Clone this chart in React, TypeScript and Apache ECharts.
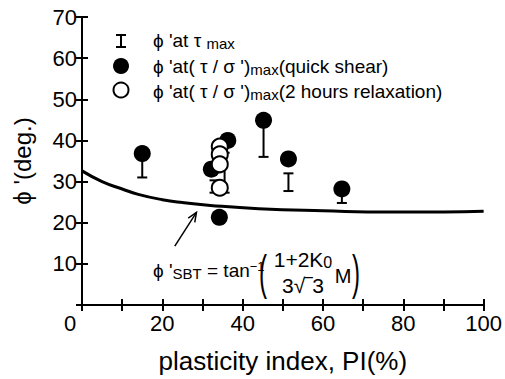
import React, { useEffect, useRef } from "react";
import * as echarts from "echarts";

// ---- data ----
const xTicks = [0, 10, 20, 30, 40, 50, 60, 70, 80, 90, 100];
const yTicks = [0, 10, 20, 30, 40, 50, 60, 70];
// phi' at (tau/sigma')max, quick shear (filled circles)
const quickShear: number[][] = [
  [15, 36.8],
  [32.2, 33.0],
  [36.3, 40.0],
  [34.2, 21.3],
  [45.2, 44.9],
  [51.4, 35.5],
  [64.7, 28.2],
];
// phi' at (tau/sigma')max, 2 hours relaxation (open circles)
const relaxation: number[][] = [
  [34.3, 38.5],
  [34.3, 36.6],
  [34.3, 34.2],
  [34.3, 28.5],
];
// phi' at tau max: [PI, low, high]
const tauMaxBars: number[][] = [
  [15, 31.0, 36.0],
  [33.0, 27.3, 30.3],
  [35.5, 27.3, 37.0],
  [45.2, 36.0, 44.0],
  [51.4, 27.7, 32.0],
  [64.7, 24.8, 27.0],
];
// phi'SBT curve
const sbtCurve: number[][] = [
  [0, 32.6],
  [5, 30.0],
  [10, 28.2],
  [14, 26.9],
  [20, 25.6],
  [25, 24.9],
  [32, 24.2],
  [44, 23.4],
  [60, 22.9],
  [77, 22.6],
  [90, 22.6],
  [100, 22.8],
];
// annotation arrow: [x0, y0, x1, y1]
const arrowData: number[][] = [[23.1, 14.3, 28.5, 22.5]];

const FONT = "'Liberation Sans', Arial, Helvetica, sans-serif";

export default function App() {
  const ref = useRef<HTMLDivElement>(null);
  useEffect(() => {
    if (!ref.current) return;
    const chart = echarts.init(ref.current, null, { renderer: "svg" });
    const axisLine = { show: true, lineStyle: { color: "#000", width: 2 } };
    const axisTick = { show: true, inside: true, length: 6, lineStyle: { color: "#000", width: 2 } };
    const xBase = {
      type: "value" as const,
      min: xTicks[0],
      max: xTicks[xTicks.length - 1],
      interval: 10,
      axisLine,
      axisTick,
      splitLine: { show: false },
    };
    const yBase = {
      type: "value" as const,
      min: yTicks[0],
      max: yTicks[yTicks.length - 1],
      interval: 10,
      axisLine,
      axisTick,
      splitLine: { show: false },
    };
    const legText = { fontFamily: FONT, fontSize: 19, lineHeight: 21, fill: "#000" };
    const fText = { fontFamily: FONT, fontSize: 19, lineHeight: 21, fill: "#000" };
    const rich = {
      s: { fontFamily: FONT, fontSize: 15, lineHeight: 13, verticalAlign: "bottom", fill: "#000" },
      p: { fontFamily: FONT, fontSize: 13, lineHeight: 11, verticalAlign: "top", fill: "#000" },
    };
    const option: any = {
      animation: false,
      backgroundColor: "#fff",
      grid: { left: 82, right: 20, top: 17, bottom: 63 },
      xAxis: [
        {
          ...xBase,
          position: "bottom",
          axisLabel: {
            show: true,
            color: "#000",
            fontFamily: FONT,
            fontSize: 22,
            margin: 7,
            formatter: (v: number) => (v === 0 ? "{z|0}" : v % 20 === 0 ? String(v) : ""),
            rich: { z: { fontFamily: FONT, fontSize: 22, color: "#000", padding: [0, 24, 0, 0] } },
          },
          name: "plasticity index, PI(%)",
          nameLocation: "middle",
          nameGap: 43,
          nameTextStyle: { color: "#000", fontFamily: FONT, fontSize: 26 },
        },
        { ...xBase, position: "top", axisLabel: { show: false } },
      ],
      yAxis: [
        {
          ...yBase,
          position: "left",
          axisLabel: {
            show: true,
            color: "#000",
            fontFamily: FONT,
            fontSize: 22,
            margin: 5,
            formatter: (v: number) => (v === 0 ? "" : String(v)),
          },
          name: "ϕ '(deg.)",
          nameLocation: "middle",
          nameGap: 48,
          nameRotate: 90,
          nameTextStyle: { color: "#000", fontFamily: FONT, fontSize: 24 },
        },
        { ...yBase, position: "right", axisLabel: { show: false } },
      ],
      series: [
        {
          type: "line",
          data: sbtCurve,
          smooth: true,
          showSymbol: false,
          lineStyle: { color: "#000", width: 3 },
          z: 2,
        },
        {
          type: "custom",
          data: tauMaxBars,
          encode: { x: 0, y: [1, 2] },
          z: 3,
          renderItem: (_p: any, api: any) => {
            const lo = api.coord([api.value(0), api.value(1)]);
            const hi = api.coord([api.value(0), api.value(2)]);
            const w = 5;
            const st = { stroke: "#000", lineWidth: 2 };
            return {
              type: "group",
              children: [
                { type: "line", shape: { x1: lo[0], y1: lo[1], x2: hi[0], y2: hi[1] }, style: st },
                { type: "line", shape: { x1: lo[0] - w, y1: lo[1], x2: lo[0] + w, y2: lo[1] }, style: st },
                { type: "line", shape: { x1: hi[0] - w, y1: hi[1], x2: hi[0] + w, y2: hi[1] }, style: st },
              ],
            };
          },
        },
        {
          type: "scatter",
          data: quickShear,
          symbol: "circle",
          symbolSize: 17,
          itemStyle: { color: "#000", opacity: 1 },
          z: 4,
        },
        {
          type: "scatter",
          data: relaxation,
          symbol: "circle",
          symbolSize: 16,
          itemStyle: { color: "#fff", borderColor: "#000", borderWidth: 2, opacity: 1 },
          z: 5,
        },
        {
          type: "custom",
          data: arrowData,
          encode: { x: [0, 2], y: [1, 3] },
          z: 6,
          renderItem: (_p: any, api: any) => {
            const p0 = api.coord([api.value(0), api.value(1)]);
            const p1 = api.coord([api.value(2), api.value(3)]);
            const ang = Math.atan2(p1[1] - p0[1], p1[0] - p0[0]);
            const L = 10;
            const a = 0.4;
            const h1 = [p1[0] - L * Math.cos(ang - a), p1[1] - L * Math.sin(ang - a)];
            const h2 = [p1[0] - L * Math.cos(ang + a), p1[1] - L * Math.sin(ang + a)];
            const st = { stroke: "#000", lineWidth: 1.5, fill: "none" };
            return {
              type: "group",
              children: [
                { type: "line", shape: { x1: p0[0], y1: p0[1], x2: p1[0], y2: p1[1] }, style: st },
                { type: "polyline", shape: { points: [h1, p1, h2] }, style: st },
              ],
            };
          },
        },
      ],
      graphic: [
        // legend symbols
        {
          type: "group",
          children: [
            { type: "line", shape: { x1: 121, y1: 35, x2: 121, y2: 47 }, style: { stroke: "#000", lineWidth: 2 } },
            { type: "line", shape: { x1: 116, y1: 35, x2: 126, y2: 35 }, style: { stroke: "#000", lineWidth: 2 } },
            { type: "line", shape: { x1: 116, y1: 47, x2: 126, y2: 47 }, style: { stroke: "#000", lineWidth: 2 } },
            { type: "circle", shape: { cx: 121, cy: 66, r: 8 }, style: { fill: "#000" } },
            { type: "circle", shape: { cx: 121, cy: 90, r: 7.5 }, style: { fill: "#fff", stroke: "#000", lineWidth: 2 } },
          ],
        },
        {
          type: "text",
          x: 153,
          y: 40,
          style: { ...legText, text: "ϕ 'at τ {s|max}", rich, align: "left", verticalAlign: "middle" },
        },
        {
          type: "text",
          x: 153,
          y: 66,
          style: { ...legText, text: "ϕ 'at( τ / σ '){s|max}(quick shear)", rich, align: "left", verticalAlign: "middle" },
        },
        {
          type: "text",
          x: 153,
          y: 91,
          style: { ...legText, text: "ϕ 'at( τ / σ '){s|max}(2 hours relaxation)", rich, align: "left", verticalAlign: "middle" },
        },
        // formula
        {
          type: "text",
          x: 153,
          y: 270,
          style: { ...fText, text: "ϕ '{s|SBT} = tan{p|−1}", rich, align: "left", verticalAlign: "middle" },
        },
        {
          type: "text",
          x: 263,
          y: 273,
          scaleX: 0.5,
          style: { fontFamily: FONT, fontSize: 48, fill: "#000", text: "(", align: "center", verticalAlign: "middle" },
        },
        {
          type: "text",
          x: 303,
          y: 259,
          style: {
            fontFamily: FONT,
            fontSize: 21,
            lineHeight: 22,
            fill: "#000",
            text: "1+2K{s|0}",
            rich: { s: { fontFamily: FONT, fontSize: 16, lineHeight: 14, verticalAlign: "bottom", fill: "#000" } },
            align: "center",
            verticalAlign: "middle",
          },
        },
        {
          type: "text",
          x: 303,
          y: 285,
          style: { fontFamily: FONT, fontSize: 21, fill: "#000", text: "3√‾3", align: "center", verticalAlign: "middle" },
        },
        {
          type: "text",
          x: 343,
          y: 276,
          style: { fontFamily: FONT, fontSize: 20, fill: "#000", text: "M", align: "center", verticalAlign: "middle" },
        },
        {
          type: "text",
          x: 356,
          y: 273,
          scaleX: 0.5,
          style: { fontFamily: FONT, fontSize: 48, fill: "#000", text: ")", align: "center", verticalAlign: "middle" },
        },
      ],
    };
    chart.setOption(option);
    return () => chart.dispose();
  }, []);
  return <div ref={ref} style={{ position: "fixed", left: 0, top: 0, width: 505, height: 379 }} />;
}
